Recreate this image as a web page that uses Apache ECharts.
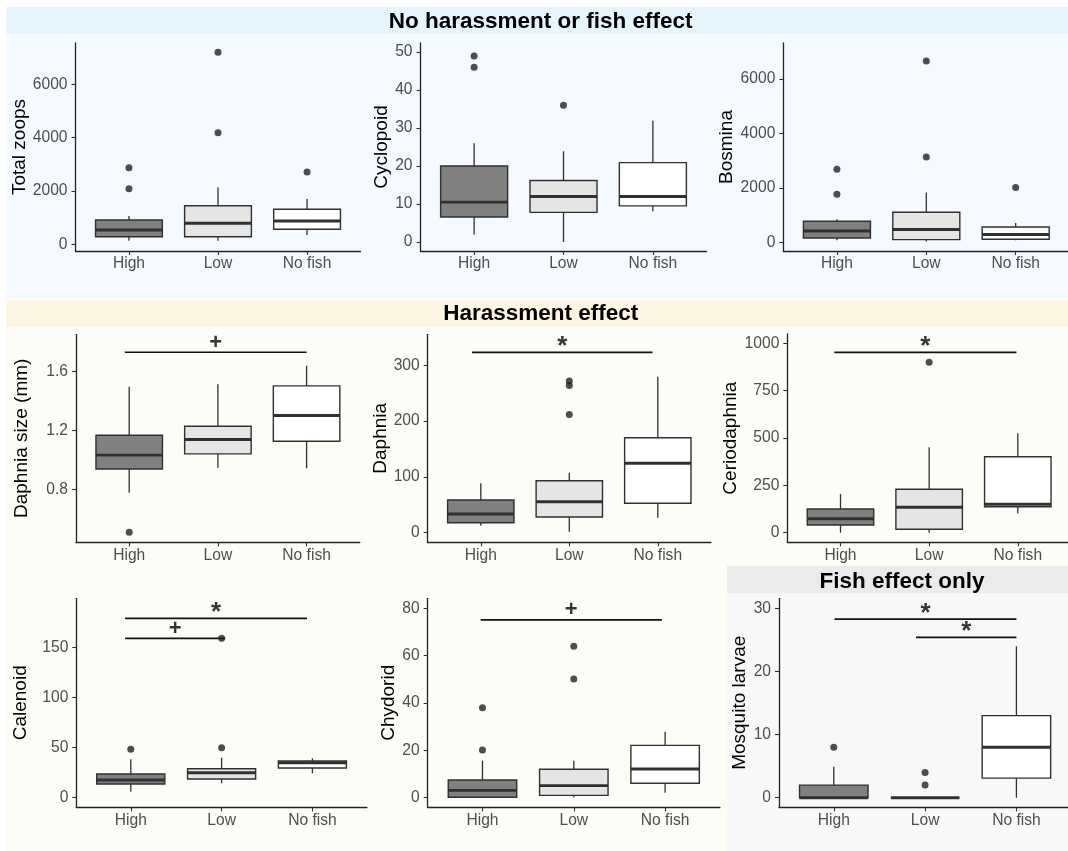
<!DOCTYPE html>
<html>
<head>
<meta charset="utf-8">
<script src="https://cdn.jsdelivr.net/npm/echarts@6/dist/echarts.min.js"></script>
<style>
  html, body { margin: 0; padding: 0; background: #ffffff; }
  #chart { width: 1068px; height: 851px; }
</style>
</head>
<body>
<div id="chart"></div>
<script>
// ---------------- DATA ----------------
const categories = ['High', 'Low', 'No fish'];
const boxFills = ['#808080', '#e5e5e5', '#ffffff'];

// box stats per category: [lower whisker, Q1, median, Q3, upper whisker]
const totalZoopsBox = [[135, 285, 536, 911, 1061], [135, 285, 787, 1448, 2137], [349, 562, 874, 1312, 1699]];
const totalZoopsOut = [[2085, 2872], [4185, 7200], [2711]];
const totalZoopsTicks = [0, 2000, 4000, 6000];
const totalZoopsRange = [-251, 7548];
const totalZoopsSig = [];

const cyclopoidBox = [[2, 6.6, 10.5, 20, 26], [0, 7.8, 12, 16.2, 23.9], [8.1, 9.5, 12, 20.9, 31.9]];
const cyclopoidOut = [[46, 49], [36], []];
const cyclopoidTicks = [0, 10, 20, 30, 40, 50];
const cyclopoidRange = [-2.37, 52.4];
const cyclopoidSig = [];

const bosminaBox = [[85, 169, 427, 784, 858], [40, 110, 478, 1115, 1840], [85, 121, 294, 574, 721]];
const bosminaOut = [[1778, 2687], [3140, 6662], [2024]];
const bosminaTicks = [0, 2000, 4000, 6000];
const bosminaRange = [-309, 7324];
const bosminaSig = [];

const daphniaSizeBox = [[0.777, 0.938, 1.032, 1.168, 1.498], [0.947, 1.041, 1.139, 1.229, 1.514], [0.943, 1.127, 1.302, 1.503, 1.641]];
const daphniaSizeOut = [[0.507], [], []];
const daphniaSizeTicks = [0.8, 1.2, 1.6];
const daphniaSizeRange = [0.4395, 1.854];
const daphniaSizeSig = [[0.95, 3.0, 1.732, '+']];

const daphniaBox = [[12.5, 17.9, 33.5, 58.6, 88.5], [1.8, 28.1, 55.6, 93.2, 107.5], [26.9, 52.7, 124.4, 170.3, 279.6]];
const daphniaOut = [[], [212, 264, 272], []];
const daphniaTicks = [0, 100, 200, 300];
const daphniaRange = [-17.2, 355.6];
const daphniaSig = [[0.90, 2.94, 323.3, '*']];

const ceriodaphniaBox = [[0, 40.7, 74, 125, 204], [0, 18, 134, 229, 451], [102, 137, 150, 401, 525]];
const ceriodaphniaOut = [[], [900], []];
const ceriodaphniaTicks = [0, 250, 500, 750, 1000];
const ceriodaphniaRange = [-50.7, 1049];
const ceriodaphniaSig = [[0.93, 2.985, 952.5, '*']];

const calenoidBox = [[6, 13.7, 17.7, 23.7, 38.4], [14.4, 18.7, 25, 29, 40], [24.4, 29.7, 35, 36.7, 39.4]];
const calenoidOut = [[48.4], [50, 159.4], []];
const calenoidTicks = [0, 50, 100, 150];
const calenoidRange = [-9.6, 199.4];
const calenoidSig = [[0.937, 2.94, 179.4, '*'], [0.937, 2.04, 159.4, '+']];

const chydoridBox = [[0, 0.2, 3.1, 7.5, 15.6], [0.2, 1, 5.1, 12, 15.6], [2.1, 6.1, 12.1, 22.1, 27.9]];
const chydoridOut = [[20.1, 38], [50.1, 64], []];
const chydoridTicks = [0, 20, 40, 60, 80];
const chydoridRange = [-4.05, 84.2];
const chydoridSig = [[0.98, 2.964, 75.1, '+']];

const mosquitoBox = [[0, 0, 0, 2, 4.9], [0, 0, 0, 0, 0], [0, 3.1, 8, 13, 24]];
const mosquitoOut = [[8], [2, 4], []];
const mosquitoTicks = [0, 10, 20, 30];
const mosquitoRange = [-1.52, 31.6];
const mosquitoSig = [[1.008, 3.0, 28.3, '*'], [1.90, 3.0, 25.4, '*']];

const panelTitles = ['Total zoops', 'Cyclopoid', 'Bosmina', 'Daphnia size (mm)', 'Daphnia', 'Ceriodaphnia', 'Calenoid', 'Chydorid', 'Mosquito larvae'];
const sectionTitles = ['No harassment or fish effect', 'Harassment effect', 'Fish effect only'];

// ---------------- LAYOUT ----------------
const panels = [
  { box: totalZoopsBox, out: totalZoopsOut, ticks: totalZoopsTicks, range: totalZoopsRange, sig: totalZoopsSig },
  { box: cyclopoidBox, out: cyclopoidOut, ticks: cyclopoidTicks, range: cyclopoidRange, sig: cyclopoidSig },
  { box: bosminaBox, out: bosminaOut, ticks: bosminaTicks, range: bosminaRange, sig: bosminaSig },
  { box: daphniaSizeBox, out: daphniaSizeOut, ticks: daphniaSizeTicks, range: daphniaSizeRange, sig: daphniaSizeSig },
  { box: daphniaBox, out: daphniaOut, ticks: daphniaTicks, range: daphniaRange, sig: daphniaSig },
  { box: ceriodaphniaBox, out: ceriodaphniaOut, ticks: ceriodaphniaTicks, range: ceriodaphniaRange, sig: ceriodaphniaSig },
  { box: calenoidBox, out: calenoidOut, ticks: calenoidTicks, range: calenoidRange, sig: calenoidSig },
  { box: chydoridBox, out: chydoridOut, ticks: chydoridTicks, range: chydoridRange, sig: chydoridSig },
  { box: mosquitoBox, out: mosquitoOut, ticks: mosquitoTicks, range: mosquitoRange, sig: mosquitoSig }
];
const layout = [
  { left: 75.5, top: 43, width: 285, height: 208, gap: 43.5 },
  { left: 420.5, top: 43, width: 286, height: 208, gap: 28.7 },
  { left: 783.3, top: 43, width: 286, height: 208, gap: 45.5 },
  { left: 76, top: 334.3, width: 283.8, height: 208, gap: 45 },
  { left: 427.7, top: 334.3, width: 283.2, height: 208, gap: 37.4 },
  { left: 787.3, top: 334, width: 283.7, height: 208.3, gap: 43.6 },
  { left: 76.3, top: 598.3, width: 290.6, height: 209, gap: 46 },
  { left: 427.7, top: 598.3, width: 292.2, height: 209, gap: 28.2 },
  { left: 779, top: 598.3, width: 292.2, height: 209, gap: 28.2 }
];

const FONT = '"Liberation Sans", Arial, Helvetica, sans-serif';
const LINE = '#303030';

const grids = [], xAxes = [], yAxes = [], series = [];

panels.forEach((p, i) => {
  const L = layout[i];
  grids.push({ left: L.left, top: L.top, width: L.width, height: L.height, containLabel: false, outerBoundsMode: 'none' });
  xAxes.push({
    type: 'value', gridIndex: i, min: 0.4, max: 3.6,
    splitLine: { show: false },
    axisLine: { show: true, onZero: false, lineStyle: { color: '#222', width: 1.3 } },
    axisTick: { show: true, customValues: [1, 2, 3], length: 4, lineStyle: { color: LINE, width: 1.1 } },
    axisLabel: { customValues: [1, 2, 3], formatter: v => categories[Math.round(v) - 1], color: '#4d4d4d', fontSize: 15.6, fontFamily: FONT, margin: 5 }
  });
  yAxes.push({
    type: 'value', gridIndex: i, min: p.range[0], max: p.range[1],
    name: panelTitles[i], nameLocation: 'middle', nameRotate: 90, nameGap: L.gap,
    nameTextStyle: { color: '#000', fontSize: 19, fontFamily: FONT },
    splitLine: { show: false },
    axisLine: { show: true, onZero: false, lineStyle: { color: '#222', width: 1.3 } },
    axisTick: { show: true, customValues: p.ticks, length: 4, lineStyle: { color: LINE, width: 1.1 } },
    axisLabel: { customValues: p.ticks, formatter: v => String(v), color: '#4d4d4d', fontSize: 15.6, fontFamily: FONT, margin: 8 }
  });

  // boxes (drawn through the axes' scales)
  series.push({
    type: 'custom', xAxisIndex: i, yAxisIndex: i, silent: true,
    encode: { x: 0, y: [1, 2, 3, 4, 5] },
    data: p.box.map((b, ci) => [ci + 1].concat(b)),
    renderItem: (params, api) => {
      const x = api.value(0);
      const pLo = api.coord([x, api.value(1)]);
      const pQ1 = api.coord([x, api.value(2)]);
      const pMed = api.coord([x, api.value(3)]);
      const pQ3 = api.coord([x, api.value(4)]);
      const pHi = api.coord([x, api.value(5)]);
      const half = api.size([0.75, 0])[0] / 2;
      return {
        type: 'group',
        children: [
          { type: 'line', shape: { x1: pLo[0], y1: pLo[1], x2: pQ1[0], y2: pQ1[1] }, style: { stroke: LINE, lineWidth: 1.3 } },
          { type: 'line', shape: { x1: pQ3[0], y1: pQ3[1], x2: pHi[0], y2: pHi[1] }, style: { stroke: LINE, lineWidth: 1.3 } },
          { type: 'rect', shape: { x: pQ3[0] - half, y: pQ3[1], width: 2 * half, height: pQ1[1] - pQ3[1] }, style: { fill: boxFills[params.dataIndex], stroke: LINE, lineWidth: 1.4 } },
          { type: 'line', shape: { x1: pMed[0] - half, y1: pMed[1], x2: pMed[0] + half, y2: pMed[1] }, style: { stroke: LINE, lineWidth: 2.9 } }
        ]
      };
    }
  });

  // outliers
  const outData = [];
  p.out.forEach((arr, ci) => arr.forEach(v => outData.push([ci + 1, v])));
  series.push({
    type: 'scatter', xAxisIndex: i, yAxisIndex: i, silent: true,
    symbol: 'circle', symbolSize: 7, itemStyle: { color: '#222222' },
    data: outData, z: 5
  });

  // significance bars and marks
  p.sig.forEach(s => {
    series.push({
      type: 'line', xAxisIndex: i, yAxisIndex: i, silent: true,
      symbol: 'none', lineStyle: { color: '#111', width: 1.7 },
      data: [[s[0], s[2]], [s[1], s[2]]], z: 4
    });
    const isStar = s[3] === '*';
    series.push({
      type: 'scatter', xAxisIndex: i, yAxisIndex: i, silent: true,
      symbolSize: 1, itemStyle: { color: 'rgba(0,0,0,0)' },
      data: [{ value: [(s[0] + s[1]) / 2, s[2]], mark: s[3] }],
      label: {
        show: true, position: 'inside', formatter: q => q.data.mark,
        offset: [0, isStar ? -5.5 : -9.5],
        color: '#000', fontSize: isStar ? 26 : 22, fontWeight: 'bold', fontFamily: FONT
      },
      z: 6
    });
  });
});

const bg = (x, y, w, h, fill) => ({ type: 'rect', z: -10, silent: true, shape: { x, y, width: w, height: h }, style: { fill } });
const hdr = (text, x, y) => ({ type: 'text', z: 10, silent: true, x, y, style: { text, fill: '#000', font: 'bold 22.5px ' + FONT, align: 'center', verticalAlign: 'middle' } });

const option = {
  animation: false,
  backgroundColor: '#ffffff',
  textStyle: { fontFamily: FONT },
  graphic: {
    elements: [
      bg(6, 7, 1062, 27, '#e6f4fc'),
      bg(6, 34, 1062, 265, '#f4faff'),
      bg(6, 300, 1062, 27, '#fcf5e1'),
      bg(6, 327, 1062, 524, '#fefcf6'),
      bg(727, 566, 341, 27, '#ebebeb'),
      bg(727, 593, 341, 258, '#f8f8f8'),
      hdr(sectionTitles[0], 540.7, 21.5),
      hdr(sectionTitles[1], 540.8, 313.8),
      hdr(sectionTitles[2], 902, 582.1)
    ]
  },
  grid: grids,
  xAxis: xAxes,
  yAxis: yAxes,
  series: series
};

const chart = echarts.init(document.getElementById('chart'), null, { renderer: 'canvas' });
chart.setOption(option);
</script>
</body>
</html>
